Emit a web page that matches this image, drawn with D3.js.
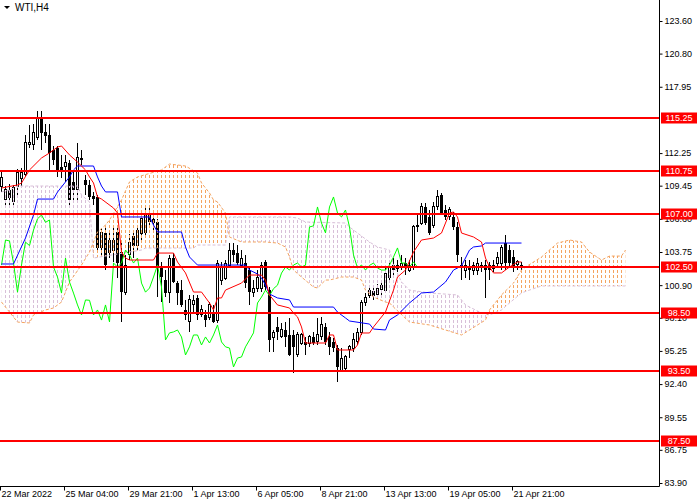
<!DOCTYPE html>
<html>
<head>
<meta charset="utf-8">
<script src="https://d3js.org/d3.v7.min.js"></script>
<style>
  body { margin: 0; background: #fff; }
  svg { display: block; }
  text { font-family: "Liberation Sans", Arial, sans-serif; }
</style>
</head>
<body>
<div id="chart"></div>
<script>
// candles, H4 bars (bar 0 = left edge)
const opens = [109.42,108.22,109.08,108.05,109.34,110.10,110.37,113.00,112.95,113.63,
  115.18,114.06,113.80,112.50,112.69,111.06,111.06,111.40,109.77,109.08,
  111.83,109.94,109.50,108.60,108.48,104.10,105.40,103.75,103.85,105.47,
  103.75,100.30,103.50,105.10,104.35,105.30,105.40,107.10,106.30,106.33,
  102.46,101.34,100.30,103.23,101.08,100.48,98.77,97.74,99.20,99.80,
  98.34,98.34,98.08,98.60,97.90,101.34,101.50,102.63,103.92,103.67,
  102.63,102.80,102.20,100.30,100.65,100.65,102.90,100.48,96.36,97.30,
  96.45,97.05,96.62,96.62,94.90,95.93,96.02,95.93,96.45,96.02,
  96.45,97.30,96.45,96.02,95.50,93.61,93.78,95.33,95.50,96.02,
  96.80,99.37,100.05,100.40,100.10,100.50,100.48,101.60,102.63,102.37,
  102.46,102.80,102.20,102.46,105.90,106.24,107.62,106.76,106.07,107.62,
  108.65,107.36,106.76,106.76,105.90,102.63,102.20,102.46,102.20,102.20,
  102.63,102.63,102.60,102.37,102.80,102.80,104.52,103.92,103.32,102.70,
  102.60];
const highs = [110.62,109.40,109.60,109.50,110.90,111.00,113.80,114.66,114.75,115.87,
  115.87,114.75,114.75,112.86,112.86,112.08,112.08,111.66,110.80,113.12,
  112.50,110.37,109.94,108.90,108.65,105.80,105.80,105.50,106.00,106.07,
  104.78,103.50,105.30,105.50,106.00,107.10,107.50,107.60,107.00,106.60,
  102.90,102.20,103.50,103.67,101.25,101.34,99.63,100.05,100.05,100.05,
  99.20,98.77,99.45,99.20,103.06,102.90,103.06,104.50,104.50,104.35,
  103.92,103.50,102.46,101.34,102.20,102.90,103.06,100.74,97.05,98.17,
  97.65,97.74,98.08,97.05,96.88,96.80,96.45,96.62,96.88,98.08,
  98.17,97.65,96.88,96.36,95.76,95.50,94.90,95.76,96.80,97.22,
  99.63,100.22,100.90,100.90,101.00,101.30,102.37,102.90,103.23,103.06,
  103.50,103.23,103.06,106.07,106.93,107.96,107.96,107.36,108.05,109.08,
  108.82,107.79,107.62,107.19,106.33,103.32,103.06,103.06,102.90,103.23,
  102.90,103.06,102.90,103.06,103.75,104.35,105.21,104.35,103.92,103.06,
  102.90];
const lows = [108.90,107.80,107.60,107.80,108.60,109.40,110.20,112.70,112.50,113.37,
  112.50,113.10,110.80,111.23,110.20,110.11,109.77,107.79,108.22,108.22,
  111.23,108.65,108.22,107.80,103.75,103.50,102.20,103.20,102.90,101.50,
  97.74,100.05,103.06,103.20,103.90,104.80,105.10,106.00,105.60,99.90,
  99.45,99.90,99.37,101.08,99.20,99.03,97.90,96.88,98.60,97.90,
  98.20,97.30,97.90,97.65,97.65,100.90,101.34,102.40,102.90,102.63,
  102.40,100.65,99.20,99.90,100.30,100.30,100.48,95.16,95.16,96.19,
  96.36,95.60,94.80,93.35,94.73,95.76,94.90,95.60,95.76,95.76,
  96.19,95.76,94.90,95.16,92.58,93.44,93.44,94.64,95.16,95.76,
  96.62,99.12,99.80,99.60,99.70,99.80,100.30,101.17,101.77,102.03,
  102.20,101.77,102.03,102.20,105.47,106.07,106.07,105.21,105.81,107.36,
  106.93,106.50,106.50,105.64,102.90,101.34,101.50,101.34,101.77,101.77,
  102.03,99.80,101.34,102.03,102.37,102.20,102.20,102.37,102.03,102.20,
  102.20];
const closes = [110.11,109.08,108.40,109.25,110.54,110.60,113.12,113.20,113.98,115.35,
  113.98,113.72,112.25,111.66,110.63,110.63,111.40,108.22,109.08,111.83,
  111.66,109.50,108.48,108.30,104.10,105.40,102.63,104.78,104.70,102.80,
  100.30,102.63,104.60,104.30,105.64,106.60,106.93,106.30,106.50,102.46,
  101.60,100.22,103.23,101.17,100.22,99.20,98.34,99.63,99.60,98.34,
  98.77,97.90,99.20,97.74,102.80,102.46,102.80,103.92,103.50,102.80,
  103.23,101.08,100.30,100.65,101.60,102.63,100.74,96.19,96.80,96.88,
  97.05,96.45,94.90,95.60,96.62,96.62,95.76,96.45,95.93,96.62,
  97.48,96.02,95.60,95.50,93.87,94.64,94.73,95.60,96.19,96.80,
  99.37,99.88,100.48,100.00,100.60,100.90,101.94,102.46,102.20,102.63,
  102.80,102.46,102.63,105.90,106.00,107.62,106.24,105.39,107.62,108.48,
  107.10,106.76,107.36,105.90,103.50,102.37,102.63,102.20,102.60,102.80,
  102.37,102.20,102.20,102.63,103.32,104.10,102.80,102.80,102.46,102.90,
  102.45];

// Ichimoku lines, [bar, price] at the turning points
const tenkan = [[0,109.25],[4,109.51],[5,109.68],[7,110.80],[10,111.83],[12,112.26],[14,112.77],
  [15,112.86],[17,112.09],[19,111.48],[21,110.80],[22,110.20],[23,109.68],[24,108.47],[25,108.30],
  [28,107.53],[29,107.10],[30,103.75],[31,103.23],[32,103.06],[38,103.06],[39,103.66],[43,103.66],
  [44,102.89],[46,101.95],[48,100.31],[50,100.31],[52,99.37],[53,98.77],[54,99.80],[55,99.80],
  [56,100.48],[60,101.08],[62,101.77],[65,101.77],[66,101.34],[67,100.05],[69,99.20],[72,98.94],
  [73,98.51],[74,98.17],[75,97.31],[76,95.93],[81,95.93],[82,96.62],[83,96.62],[84,95.33],
  [88,95.33],[89,95.76],[90,96.79],[92,96.79],[93,97.31],[96,98.60],[98,100.48],[99,101.60],
  [101,102.20],[103,103.75],[105,104.78],[108,104.95],[110,105.38],[111,106.24],[112,107.10],
  [113,107.19],[114,106.76],[115,105.38],[118,105.04],[120,104.61],[121,103.23],[122,102.46],
  [123,101.95],[125,101.95],[127,102.46],[129,102.89],[130,102.89]];
const kijun = [[0,102.72],[3,102.72],[6,104.95],[8,106.93],[9,108.30],[13,108.30],[14,108.90],
  [15,109.34],[17,110.20],[18,110.80],[19,111.14],[23,111.14],[24,110.20],[25,109.42],[26,108.91],
  [29,108.91],[30,106.76],[37,106.76],[38,106.07],[39,105.47],[45,105.47],[46,104.18],[47,103.32],
  [49,102.63],[61,102.63],[62,102.20],[64,101.86],[65,101.52],[66,100.91],[67,100.14],[69,99.80],
  [72,99.63],[73,99.02],[83,99.02],[84,98.59],[86,98.08],[87,97.82],[92,97.56],[93,97.13],
  [96,97.05],[97,97.91],[99,98.34],[102,99.37],[105,100.23],[108,100.31],[111,101.17],[113,102.20],
  [115,102.55],[117,103.92],[118,104.18],[120,104.27],[121,104.52],[130,104.52]];
const spanA = [[0,99.45],[2,98.59],[4,97.73],[7,97.65],[8,98.34],[11,98.77],[13,98.94],[15,99.45],
  [17,101.17],[20,102.63],[22,103.75],[24,105.47],[26,106.07],[27,106.50],[30,108.22],[32,109.77],
  [34,110.20],[40,110.80],[42,111.31],[46,111.14],[49,110.54],[50,109.68],[52,108.82],[53,108.22],
  [54,108.05],[56,107.10],[57,105.04],[60,104.61],[66,104.61],[69,104.52],[71,104.18],[72,103.32],
  [73,102.20],[75,101.60],[78,100.74],[79,100.66],[81,101.34],[82,101.34],[85,101.60],[88,101.60],
  [90,101.34],[91,100.48],[93,99.88],[96,99.45],[97,99.37],[98,99.02],[102,97.73],[107,97.48],
  [111,97.05],[115,96.62],[117,97.05],[121,97.91],[122,98.77],[125,100.06],[128,101.08],[130,102.20],
  [131,102.46],[135,103.32],[139,104.52],[142,104.78],[145,104.61],[147,103.75],[150,103.06],
  [152,103.40],[155,103.40],[156,103.92]];
const spanB = [[0,108.91],[2,109.08],[4,109.42],[19,109.42],[20,108.65],[22,108.05],[23,103.23],
  [35,103.92],[36,104.09],[48,104.09],[49,104.35],[56,104.35],[57,106.76],[72,106.76],[74,106.67],
  [76,106.33],[86,106.24],[87,105.90],[89,105.38],[92,104.61],[94,104.18],[97,103.92],[98,102.63],
  [100,101.17],[102,100.48],[107,100.23],[114,100.06],[116,99.20],[120,98.51],[122,98.34],[125,98.77],
  [127,99.37],[130,100.23],[132,100.48],[135,100.83],[156,100.83]];
const chikouShift = 26;

// horizontal levels and axis labels (115.10 sits fully under the 115.25 tag)
const levels = [115.25, 110.75, 107.00, 102.50, 98.50, 93.50, 87.50];
const priceTicks = [123.60, 120.80, 117.95, 112.25, 109.45, 106.60, 103.75,
  100.90, 98.10, 95.25, 92.40, 89.55, 86.75, 83.90];
const timeTickBars = [0, 16, 32, 48, 64, 80, 96, 112, 128];
const timeLabels = ["22 Mar 2022", "25 Mar 04:00", "29 Mar 21:00", "1 Apr 13:00", "6 Apr 05:00",
  "8 Apr 21:00", "13 Apr 13:00", "19 Apr 05:00", "21 Apr 21:00"];

const W = 700, H = 500;
const plotR = 659.5, plotB = 486.5;

const svg = d3.select("#chart").append("svg")
  .attr("width", W).attr("height", H);

const x = d3.scaleLinear().domain([0, 1]).range([1.5, 5.5]);   // 4 px per bar
const y = d3.scaleLinear().domain([83.90, 123.60]).range([483, 21]);

const defs = svg.append("defs");
defs.append("clipPath").attr("id", "plot")
  .append("rect").attr("x", 0).attr("y", 0).attr("width", 659).attr("height", 486);

const line = d3.line().x(d => x(d[0])).y(d => y(d[1]));
const pathA = line(spanA);
const pathB = line(spanB);
const lastBar = spanA[spanA.length - 1][0];
const x0 = x(0), x1 = x(lastBar);

// cloud outline (both lobes) and the two half planes split by span A
const cloud = pathA + "L" + line(spanB.slice().reverse()).slice(1) + "Z";
defs.append("clipPath").attr("id", "cloudClip").append("path").attr("d", cloud);
defs.append("clipPath").attr("id", "belowA")
  .append("path").attr("d", pathA + `L${x1},${H}L${x0},${H}Z`);
defs.append("clipPath").attr("id", "aboveA")
  .append("path").attr("d", pathA + `L${x1},0L${x0},0Z`);

const g = svg.append("g").attr("clip-path", "url(#plot)");

// candles
const bars = d3.range(opens.length);
const cg = g.append("g").attr("shape-rendering", "crispEdges");
cg.selectAll("line").data(bars).join("line")
  .attr("x1", i => x(i)).attr("x2", i => x(i))
  .attr("y1", i => y(highs[i])).attr("y2", i => y(lows[i]))
  .attr("stroke", "#000").attr("stroke-width", 1);
cg.selectAll("rect").data(bars).join("rect")
  .attr("x", i => closes[i] >= opens[i] ? x(i) - 1 : x(i) - 1.5)
  .attr("width", i => closes[i] >= opens[i] ? 2 : 3)
  .attr("y", i => y(Math.max(opens[i], closes[i])))
  .attr("height", i => Math.max(1, Math.abs(y(opens[i]) - y(closes[i]))))
  .attr("fill", i => closes[i] >= opens[i] ? "#fff" : "#000")
  .attr("stroke", i => closes[i] >= opens[i] ? "#000" : "none")
  .attr("stroke-width", 1);

// cloud hatch: one dotted column per bar, coloured by which span is on top
const cols = d3.range(0, lastBar + 1);
const hg = g.append("g").attr("clip-path", "url(#cloudClip)");
[["belowA", "#f4a460"], ["aboveA", "#d8bfd8"]].forEach(([clip, color]) => {
  hg.append("g").attr("clip-path", `url(#${clip})`)
    .selectAll("line").data(cols).join("line")
    .attr("x1", i => x(i)).attr("x2", i => x(i))
    .attr("y1", 0).attr("y2", plotB)
    .attr("stroke", color).attr("stroke-width", 1)
    .attr("stroke-dasharray", "3,2")
    .attr("shape-rendering", "crispEdges");
});
g.append("path").attr("d", pathB).attr("fill", "none")
  .attr("stroke", "#d8bfd8").attr("stroke-width", 1).attr("stroke-dasharray", "3,2");
g.append("path").attr("d", pathA).attr("fill", "none")
  .attr("stroke", "#f4a460").attr("stroke-width", 1).attr("stroke-dasharray", "3,2");

// chikou = closes drawn 26 bars back
const chikou = bars.filter(i => i >= chikouShift).map(i => [i - chikouShift, closes[i]]);
g.append("path").attr("d", line(chikou)).attr("fill", "none")
  .attr("stroke", "#00ff00").attr("stroke-width", 1);
g.append("path").attr("d", line(kijun)).attr("fill", "none")
  .attr("stroke", "#0000ff").attr("stroke-width", 1);
g.append("path").attr("d", line(tenkan)).attr("fill", "none")
  .attr("stroke", "#ff0000").attr("stroke-width", 1);

// support / resistance levels
svg.append("g").selectAll("line").data(levels).join("line")
  .attr("x1", 0).attr("x2", plotR)
  .attr("y1", d => Math.round(y(d))).attr("y2", d => Math.round(y(d)))
  .attr("stroke", "#ff0000").attr("stroke-width", 2);

// price axis
const yAxis = d3.axisRight(y).tickValues(priceTicks).tickSize(3).tickSizeOuter(0)
  .tickFormat(d3.format(".2f"));
const ya = svg.append("g").attr("transform", `translate(${plotR},0)`).call(yAxis);
ya.select(".domain").remove();
ya.selectAll("line").attr("stroke", "#000");
ya.selectAll("text").attr("x", 5).attr("font-size", 9).attr("fill", "#000")
  .attr("font-family", "'Liberation Sans', Arial, sans-serif");

// level tags on the axis
const lab = svg.append("g").selectAll("g").data(levels).join("g")
  .attr("transform", d => `translate(661,${Math.round(y(d))})`);
lab.append("rect").attr("x", 0).attr("y", -5.5).attr("width", 36).attr("height", 11)
  .attr("fill", "#ff0000");
lab.append("text").attr("x", 18).attr("y", 3.3).attr("text-anchor", "middle")
  .attr("font-size", 9).attr("fill", "#fff").text(d => d.toFixed(2));

// time axis
const xAxis = d3.axisBottom(x).tickValues(timeTickBars).tickSize(4).tickSizeOuter(0)
  .tickFormat((d, i) => timeLabels[i]);
const xa = svg.append("g").attr("transform", `translate(-1.5,${plotB})`).call(xAxis);
xa.select(".domain").remove();
xa.selectAll("line").attr("stroke", "#000");
xa.selectAll("text").attr("text-anchor", "start").attr("x", 1).attr("y", 4)
  .attr("font-size", 9).attr("fill", "#000")
  .attr("font-family", "'Liberation Sans', Arial, sans-serif");

// frame
svg.append("line").attr("x1", plotR).attr("x2", plotR).attr("y1", 0).attr("y2", plotB)
  .attr("stroke", "#000").attr("stroke-width", 1);
svg.append("line").attr("x1", 0).attr("x2", plotR).attr("y1", plotB).attr("y2", plotB)
  .attr("stroke", "#000").attr("stroke-width", 1);

// title
svg.append("path").attr("d", "M4,6L10,6L7,9Z").attr("fill", "#000");
svg.append("text").attr("x", 15).attr("y", 11).attr("font-size", 10).attr("fill", "#000")
  .text("WTI,H4");
</script>
</body>
</html>
